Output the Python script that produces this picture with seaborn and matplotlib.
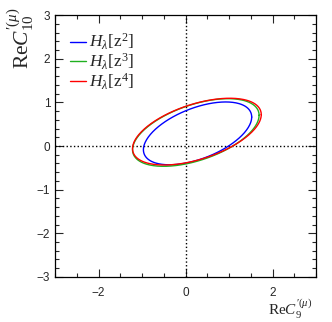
import numpy as np
import pandas as pd
import seaborn as sns
import matplotlib.pyplot as plt
from matplotlib.ticker import MultipleLocator

# contour parameters (centre, widths, correlation)
labels = [r"$H_{\lambda}[\mathrm{z}^{2}]$", r"$H_{\lambda}[\mathrm{z}^{3}]$", r"$H_{\lambda}[\mathrm{z}^{4}]$"]
colors = ["#0000ff", "#1fb01f", "#ff0000"]
center_x = [0.275, 0.235, 0.26]
center_y = [0.29, 0.31, 0.33]
sigma_x = [1.245, 1.455, 1.48]
sigma_y = [0.72, 0.775, 0.765]
rho = [0.52, 0.51, 0.51]

# build the contour lines
t = np.linspace(0, 2 * np.pi, 300)
frames = []
for lab, cx, cy, sx, sy, r in zip(labels, center_x, center_y, sigma_x, sigma_y, rho):
    x = cx + sx * np.cos(t)
    y = cy + sy * (r * np.cos(t) + np.sqrt(1 - r**2) * np.sin(t))
    frames.append(pd.DataFrame({"x": x, "y": y, "model": lab}))
df = pd.concat(frames, ignore_index=True)

sns.set_theme(style="ticks")
plt.rcParams["font.family"] = ["Liberation Sans", "DejaVu Sans"]
plt.rcParams["mathtext.fontset"] = "custom"
plt.rcParams["mathtext.rm"] = "Liberation Serif"
plt.rcParams["mathtext.it"] = "Liberation Serif:italic"
plt.rcParams["mathtext.bf"] = "Liberation Serif:bold"

fig = plt.figure(figsize=(3.32, 3.22), dpi=100)
ax = fig.add_axes([0.166, 0.14, 0.786, 0.813])

ax.axvline(0, color="black", linestyle=":", linewidth=1.0)
ax.axhline(0, color="black", linestyle=":", linewidth=1.0)

sns.lineplot(data=df, x="x", y="y", hue="model", palette=colors, sort=False,
             estimator=None, units="model", linewidth=1.0, ax=ax)

ax.set_xlim(-3, 3)
ax.set_ylim(-3, 3)
ax.xaxis.set_major_locator(MultipleLocator(2))
ax.xaxis.set_minor_locator(MultipleLocator(0.5))
ax.yaxis.set_major_locator(MultipleLocator(1))
ax.yaxis.set_minor_locator(MultipleLocator(0.2))
ax.tick_params(which="both", direction="in", top=True, right=True, labelsize=8.5)
ax.tick_params(which="major", length=5.8, width=0.8)
ax.tick_params(which="minor", length=2.9, width=0.8)
ax.tick_params(axis="x", pad=7)
ax.tick_params(axis="y", pad=3.5)
for s in ax.spines.values():
    s.set_linewidth(0.9)
    s.set_color("black")

ax.set_xlabel(r"$\mathrm{Re}C^{\prime(\mu)}_{9}$", fontsize=11, loc="right")
ax.set_ylabel(r"$\mathrm{Re}C^{\prime(\mu)}_{10}$", fontsize=15.5, loc="top")
ax.xaxis.set_label_coords(0.985, -0.08)
ax.yaxis.set_label_coords(-0.075, 1.03)

ax.legend(loc="upper left", bbox_to_anchor=(0.03, 0.962), frameon=False, fontsize=12.5,
          handlelength=0.95, handletextpad=0.15, labelspacing=-0.04, borderaxespad=0)

fig.savefig("out.png", dpi=100)
